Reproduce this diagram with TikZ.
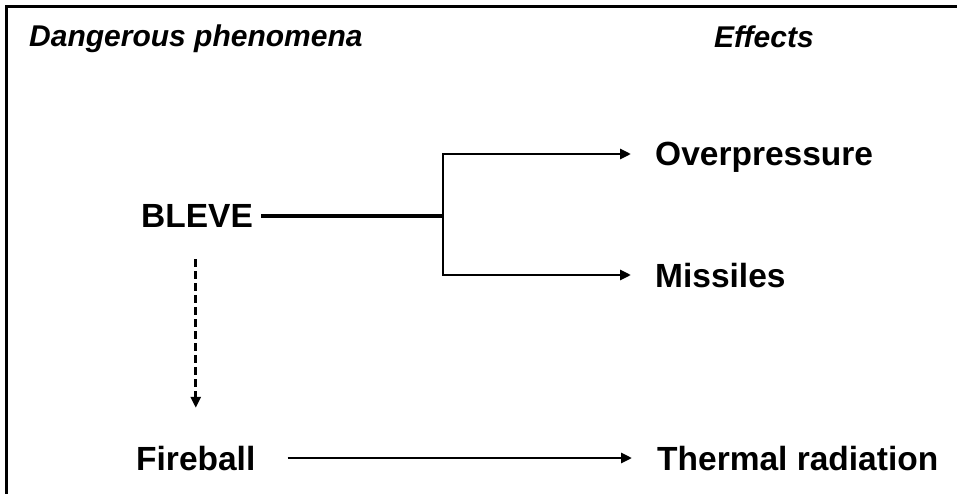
\documentclass[tikz,border=0pt]{standalone}
\usepackage{fontspec}
\setmainfont{Liberation Sans}
\usetikzlibrary{arrows.meta}

\begin{document}
\begin{tikzpicture}[x=1pt,y=-1pt,
        every node/.style={inner sep=0pt,anchor=west,text height=24pt,text depth=0pt,
          font=\fontsize{33.5}{40}\selectfont\bfseries},
        head/.style={anchor=base west,font=\fontsize{30}{36}\selectfont\bfseries\itshape},
        link/.style={line width=2.8pt},
        effect/.style={link,-{Triangle[length=11pt,width=10pt]}}]
        \useasboundingbox (0,0) rectangle (957,494);
        \draw [line width=3.5pt] (6.5,494) -- (6.5,6.5) -- (957,6.5);
        % column heads
        \node [head] (phen) at (29,47) {Dangerous phenomena};
        \node [head] (eff) at (714,48) {Effects};
        % phenomena
        \node (bleve) at (141,216) {BLEVE};
        \node (fireball) at (136,458) {Fireball};
        % effects
        \node (over) at (655,154) {Overpressure};
        \node (missiles) at (655,275) {Missiles};
        \node (thermal) at (657,458) {Thermal radiation};
        \coordinate (split) at (443,216);
        \draw [link,line width=3.4pt,shorten <=8pt] (bleve.east) -- (split);
        \draw [effect,shorten >=24pt] (split) |- (over.west);
        \draw [effect,shorten >=24pt] (split) |- (missiles.west);
        \draw [effect,line width=3pt,dash pattern=on 8pt off 4pt,shorten <=31pt,shorten >=38pt] (bleve.south -| fireball.south) -- (fireball.north);
        \draw [effect,shorten <=32pt,shorten >=25pt] (fireball.east) -- (thermal.west);
\end{tikzpicture}
\end{document}
